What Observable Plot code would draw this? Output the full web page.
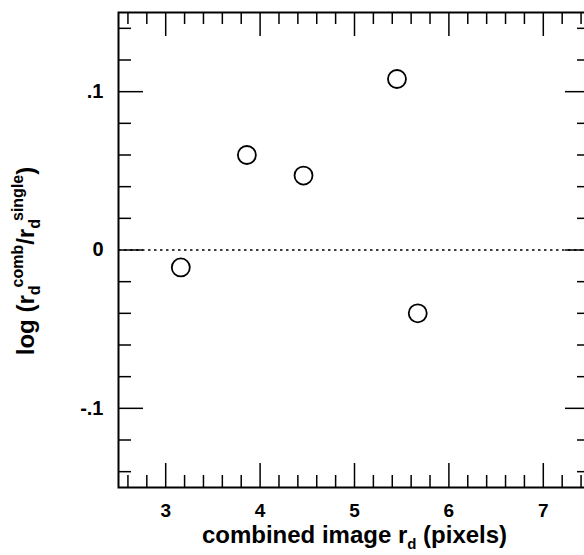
<!DOCTYPE html>
<html><head><meta charset="utf-8">
<script src="https://cdn.jsdelivr.net/npm/d3@7"></script>
<script src="https://cdn.jsdelivr.net/npm/@observablehq/plot@0.6"></script>
<style>html,body{margin:0;padding:0;background:#fff;overflow:hidden}</style>
</head><body><div id="chart"></div>
<script>
// data: combined image r_d vs log ratio
const rComb = [3.16, 3.86, 4.46, 5.45, 5.67];
const logRatio = [-0.011, 0.060, 0.047, 0.108, -0.040];

// ticks
const xMajorTicks = [3, 4, 5, 6, 7];
const xTickLabels = ["3", "4", "5", "6", "7"];
const xMinorTicks = [2.6, 2.8, 3.2, 3.4, 3.6, 3.8, 4.2, 4.4, 4.6, 4.8, 5.2, 5.4, 5.6, 5.8, 6.2, 6.4, 6.6, 6.8, 7.2, 7.4];
const yMajorTicks = [-0.1, 0, 0.1];
const yTickLabels = ["-.1", "0", ".1"];
const yMinorTicks = [-0.14, -0.12, -0.08, -0.06, -0.04, -0.02, 0.02, 0.04, 0.06, 0.08, 0.12, 0.14];

const xTitle = "combined image rd (pixels)";
const yTitle = "log (rdcomb/rdsingle)";

const points = rComb.map((r, i) => ({r, v: logRatio[i]}));

const width = 584, height = 555;
const mT = 12, mB = 68, mL = 118, mR = -6;
const W = width - mL - mR, H = height - mT - mB;
const majX = 24, minX = 12, majY = 25, minY = 13;

const plot = Plot.plot({
  width, height,
  marginTop: mT, marginBottom: mB, marginLeft: mL, marginRight: mR,
  style: {fontFamily: "'Liberation Sans', Arial, Helvetica, sans-serif", background: "white", color: "black"},
  x: {domain: [2.5, 7.5]},
  y: {domain: [-0.15, 0.15]},
  marks: [
    Plot.ruleY([0], {stroke: "black", strokeWidth: 1.5, strokeDasharray: "2.5,3.5"}),
    // x ticks bottom & top
    Plot.tickX(xMajorTicks, {x: d => d, insetTop: H - majX, stroke: "black", strokeWidth: 1.5}),
    Plot.tickX(xMajorTicks, {x: d => d, insetBottom: H - majX, stroke: "black", strokeWidth: 1.5}),
    Plot.tickX(xMinorTicks, {x: d => d, insetTop: H - minX, stroke: "black", strokeWidth: 1.5}),
    Plot.tickX(xMinorTicks, {x: d => d, insetBottom: H - minX, stroke: "black", strokeWidth: 1.5}),
    // y ticks left & right
    Plot.tickY(yMajorTicks, {y: d => d, insetRight: W - majY, stroke: "black", strokeWidth: 1.5}),
    Plot.tickY(yMajorTicks, {y: d => d, insetLeft: W - majY, stroke: "black", strokeWidth: 1.5}),
    Plot.tickY(yMinorTicks, {y: d => d, insetRight: W - minY, stroke: "black", strokeWidth: 1.5}),
    Plot.tickY(yMinorTicks, {y: d => d, insetLeft: W - minY, stroke: "black", strokeWidth: 1.5}),
    Plot.frame({stroke: "black", strokeWidth: 2}),
    Plot.axisX(xMajorTicks, {tickSize: 0, tickPadding: 16, fontSize: 19, fontWeight: "bold", label: null,
      tickFormat: d => xTickLabels[xMajorTicks.indexOf(d)]}),
    Plot.axisY(yMajorTicks, {tickSize: 0, tickPadding: 15, fontSize: 20, fontWeight: "bold", label: null,
      tickFormat: d => yTickLabels[yMajorTicks.indexOf(d)]}),
    Plot.dot(points, {x: "r", y: "v", r: 9, stroke: "black", strokeWidth: 1.8, fill: "none"}),
    Plot.text([xTitle], {frameAnchor: "bottom", textAnchor: "middle", dy: 55, fontSize: 24, fontWeight: "bold", fill: "black"}),
    Plot.text([yTitle], {frameAnchor: "left", textAnchor: "middle", dx: -92, dy: 11, rotate: -90, fontSize: 24, fontWeight: "bold", fill: "black"})
  ]
});
document.getElementById("chart").appendChild(plot);

// add sub/superscripts
const svg = d3.select(plot);
svg.selectAll("text").each(function() {
  const t = d3.select(this);
  const s = this.textContent;
  if (s === xTitle) {
    t.text(null);
    t.append("tspan").text("combined image r");
    t.append("tspan").attr("font-size", 15).attr("dy", 6).text("d");
    t.append("tspan").attr("dy", -6).text(" (pixels)");
  } else if (s === yTitle) {
    t.text(null);
    t.append("tspan").text("log (r");
    t.append("tspan").attr("font-size", 16).attr("dy", 6).text("d");
    t.append("tspan").attr("font-size", 16).attr("dx", -2).attr("dy", -17).text("comb");
    t.append("tspan").attr("dy", 11).text("/r");
    t.append("tspan").attr("font-size", 16).attr("dy", 6).text("d");
    t.append("tspan").attr("font-size", 16).attr("dx", -2).attr("dy", -17).text("single");
    t.append("tspan").attr("dy", 11).text(")");
  }
});
</script></body></html>
